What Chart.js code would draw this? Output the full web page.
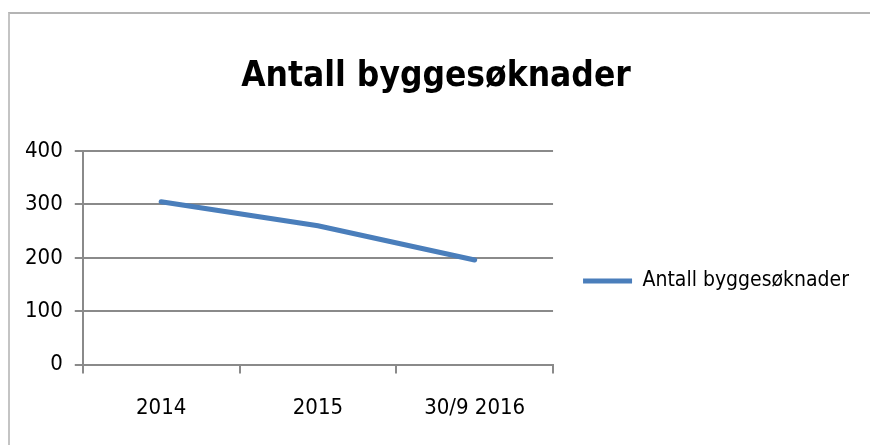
<!DOCTYPE html>
<html>
<head>
<meta charset="utf-8">
<script src="https://cdn.jsdelivr.net/npm/chart.js@4/dist/chart.umd.min.js"></script>
<style>
  html, body { margin: 0; padding: 0; background: #fff; }
  #wrap { position: relative; width: 870px; height: 445px; overflow: hidden; }
  #frame { position: absolute; left: 8px; top: 12px; right: -10px; bottom: -10px;
           border-top: 2px solid #b4b4b4; border-left: 2px solid #c4c4c4; pointer-events: none; }
  canvas { position: absolute; left: 0; top: 0; }
</style>
</head>
<body>
<div id="wrap">
  <canvas id="c" width="870" height="445"></canvas>
  <div id="frame"></div>
</div>
<script>
const categories = ['2014', '2015', '30/9 2016'];
const seriesName = 'Antall byggesøknader';
const seriesValues = [305, 260, 196];
const yTicks = [0, 100, 200, 300, 400];
const titleText = 'Antall byggesøknader';

const FONT = "'DejaVu Sans Condensed', 'Liberation Sans', sans-serif";
const GRID = '#8a8a8a';

// Let the right-hand legend be wider than Chart.js' default half-width share.
const widenLegend = {
  id: 'widenLegend',
  beforeLayout(chart) {
    const lg = chart.legend;
    if (lg && !lg._widened) {
      const orig = lg.update.bind(lg);
      lg.update = (maxW, maxH, margins) => orig(Math.max(maxW, 360), maxH, margins);
      lg._widened = true;
    }
  }
};

new Chart(document.getElementById('c'), {
  type: 'line',
  data: {
    labels: categories,
    datasets: [{
      label: seriesName,
      data: seriesValues,
      borderColor: '#4a7ebb',
      backgroundColor: '#4a7ebb',
      borderWidth: 5,
      borderCapStyle: 'round',
      pointRadius: 0,
      tension: 0
    }]
  },
  plugins: [widenLegend],
  options: {
    responsive: false,
    animation: false,
    layout: { padding: { left: 13, right: 11, top: 0, bottom: 3 } },
    plugins: {
      title: {
        display: true,
        text: titleText,
        color: '#000',
        font: { family: FONT, size: 35, weight: 'bold' },
        padding: { top: 56, bottom: 53 }
      },
      legend: {
        position: 'right',
        title: { display: true, text: ' ', font: { size: 10 }, padding: { top: 0, bottom: 108 } },
        labels: {
          usePointStyle: true,
          pointStyle: 'line',
          pointStyleWidth: 49,
          boxWidth: 49,
          padding: 30,
          color: '#000',
          font: { family: FONT, size: 21 }
        }
      },
      tooltip: { enabled: false }
    },
    scales: {
      x: {
        offset: true,
        grid: { display: true, drawOnChartArea: false, offset: true, color: GRID, lineWidth: 2, tickLength: 9 },
        border: { display: true, color: GRID, width: 2 },
        ticks: { color: '#000', font: { family: FONT, size: 22 }, padding: 21, maxRotation: 0 }
      },
      y: {
        min: 0, max: 400,
        afterBuildTicks: (axis) => { axis.ticks = yTicks.map(v => ({ value: v })); },
        grid: { color: GRID, lineWidth: 2, tickLength: 8 },
        border: { display: true, color: GRID, width: 2 },
        ticks: { color: '#000', font: { family: FONT, size: 22 }, padding: 12 }
      }
    }
  }
});
</script>
</body>
</html>
